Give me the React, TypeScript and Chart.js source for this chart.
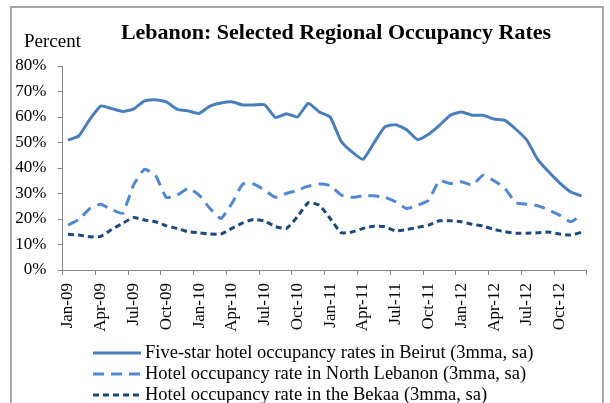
import { useEffect, useRef } from 'react';
import { Chart, registerables } from 'chart.js';

Chart.register(...registerables);

const months = [
  'Jan-09','Feb-09','Mar-09','Apr-09','May-09','Jun-09','Jul-09','Aug-09','Sep-09','Oct-09','Nov-09','Dec-09',
  'Jan-10','Feb-10','Mar-10','Apr-10','May-10','Jun-10','Jul-10','Aug-10','Sep-10','Oct-10','Nov-10','Dec-10',
  'Jan-11','Feb-11','Mar-11','Apr-11','May-11','Jun-11','Jul-11','Aug-11','Sep-11','Oct-11','Nov-11','Dec-11',
  'Jan-12','Feb-12','Mar-12','Apr-12','May-12','Jun-12','Jul-12','Aug-12','Sep-12','Oct-12','Nov-12','Dec-12',
];

const beirut = [
  50.9, 52.6, 59.1, 64.3, 63.3, 62.2, 63.1, 66.3, 66.8, 65.9, 63.0, 62.4,
  61.4, 64.3, 65.5, 66.0, 64.7, 64.7, 64.8, 59.8, 61.3, 60.0, 65.4, 62.0,
  60.0, 50.5, 46.3, 43.4, 49.8, 56.1, 57.0, 55.0, 51.1, 53.2, 56.7, 60.7,
  62.0, 60.7, 60.7, 59.2, 58.7, 55.2, 50.9, 43.3, 38.5, 34.2, 30.7, 29.0,
];

const northLebanon = [
  17.6, 19.8, 24.1, 25.8, 23.7, 22.2, 33.3, 39.5, 37.2, 28.5, 29.4, 32.0,
  29.4, 24.1, 20.2, 26.1, 33.7, 33.7, 31.3, 28.5, 30.0, 31.3, 32.9, 33.7,
  33.1, 29.4, 28.5, 29.1, 29.1, 28.5, 26.7, 24.1, 25.4, 27.4, 35.0, 33.9,
  34.6, 33.3, 37.2, 35.0, 32.0, 26.4, 25.8, 25.2, 23.5, 21.5, 18.9, 21.5,
];

const bekaa = [
  14.0, 13.7, 13.0, 13.2, 15.9, 18.3, 20.6, 19.6, 18.9, 17.3, 16.3, 15.0,
  14.6, 14.1, 14.1, 16.3, 18.5, 19.8, 19.2, 17.0, 16.3, 20.9, 26.4, 25.4,
  20.2, 14.6, 14.9, 16.3, 17.2, 17.0, 15.3, 15.9, 16.7, 17.6, 19.3, 19.3,
  18.9, 17.9, 17.2, 15.9, 15.0, 14.4, 14.4, 14.6, 14.9, 14.1, 13.7, 14.8,
];

const seriesLabels = [
  'Five-star hotel occupancy rates in Beirut (3mma, sa)',
  'Hotel occupancy rate in North Lebanon (3mma, sa)',
  'Hotel occupancy rate in the Bekaa (3mma, sa)',
];

const yTicks = [0, 10, 20, 30, 40, 50, 60, 70, 80];

const titleText = 'Lebanon: Selected Regional Occupancy Rates';
const yUnitText = 'Percent';

const FONT = "'Liberation Serif', 'Times New Roman', serif";
const AXIS_GREY = '#868686';

const textPlugin = {
  id: 'customText',
  afterDraw(chart: any) {
    const ctx = chart.ctx;
    ctx.save();
    ctx.fillStyle = '#000';
    ctx.textBaseline = 'middle';
    ctx.font = `bold 22px ${FONT}`;
    ctx.textAlign = 'center';
    ctx.fillText(titleText, 336, 33);
    ctx.font = `19px ${FONT}`;
    ctx.textAlign = 'left';
    ctx.fillText(yUnitText, 24, 42);

    // legend
    const rows = [353, 374, 395];
    chart.data.datasets.forEach((ds: any, i: number) => {
      const y = rows[i];
      ctx.beginPath();
      ctx.strokeStyle = ds.borderColor;
      ctx.lineWidth = ds.borderWidth;
      ctx.setLineDash(ds.borderDash || []);
      ctx.moveTo(93, y);
      ctx.lineTo(141, y);
      ctx.stroke();
      ctx.setLineDash([]);
      ctx.fillStyle = '#000';
      ctx.font = `18.5px ${FONT}`;
      ctx.textAlign = 'left';
      ctx.fillText(ds.label, 145, y);
    });
    ctx.restore();
  },
};

export default function App() {
  const ref = useRef<HTMLCanvasElement | null>(null);

  useEffect(() => {
    if (!ref.current) return;
    const chart = new Chart(ref.current, {
      type: 'line',
      data: {
        labels: months,
        datasets: [
          {
            label: seriesLabels[0],
            data: beirut,
            borderColor: '#4a7ebb',
            borderWidth: 3,
            pointRadius: 0,
            tension: 0.15,
            fill: false,
          },
          {
            label: seriesLabels[1],
            data: northLebanon,
            borderColor: '#5089cd',
            borderWidth: 3,
            borderDash: [11, 7],
            pointRadius: 0,
            tension: 0.15,
            fill: false,
          },
          {
            label: seriesLabels[2],
            data: bekaa,
            borderColor: '#1f497d',
            borderWidth: 3,
            borderDash: [6, 4],
            pointRadius: 0,
            tension: 0.15,
            fill: false,
          },
        ],
      },
      options: {
        animation: false,
        responsive: false,
        maintainAspectRatio: false,
        layout: { padding: { left: 0, right: 13, top: 66, bottom: 0 } },
        plugins: {
          legend: { display: false },
          title: { display: false },
          tooltip: { enabled: false },
        },
        scales: {
          x: {
            type: 'category',
            offset: true,
            afterFit: (s: any) => { s.height = 133; },
            grid: {
              offset: true,
              drawOnChartArea: false,
              drawTicks: true,
              tickLength: 5,
              color: (c: any) => (c.index === undefined || c.index % 3 === 0 ? AXIS_GREY : 'rgba(0,0,0,0)'),
            },
            border: { display: true, color: AXIS_GREY, width: 1 },
            ticks: {
              autoSkip: false,
              minRotation: 90,
              maxRotation: 90,
              padding: 8,
              color: '#000',
              font: { family: FONT, size: 17 },
              callback: (_v: any, i: number) => (i % 3 === 0 ? months[i] : ''),
            },
          },
          y: {
            min: 0,
            max: 80,
            afterFit: (s: any) => { s.width = 62.5; },
            afterBuildTicks: (s: any) => { s.ticks = yTicks.map((v) => ({ value: v })); },
            grid: {
              drawOnChartArea: false,
              drawTicks: true,
              tickLength: 5,
              color: AXIS_GREY,
            },
            border: { display: true, color: AXIS_GREY, width: 1 },
            ticks: {
              padding: 11,
              color: '#000',
              font: { family: FONT, size: 17 },
              callback: (v: any) => `${v}%`,
            },
          },
        },
      },
      plugins: [textPlugin],
    });
    return () => chart.destroy();
  }, []);

  return (
    <div style={{ position: 'fixed', left: 0, top: 0, width: 610, height: 403, overflow: 'hidden', background: '#fff' }}>
      <div
        style={{
          position: 'absolute',
          left: 10,
          top: 6,
          width: 594,
          height: 420,
          border: '2px solid #a6a6a6',
          boxSizing: 'border-box',
        }}
      />
      <canvas ref={ref} width={610} height={403} style={{ position: 'absolute', left: 0, top: 0, width: 610, height: 403 }} />
    </div>
  );
}
